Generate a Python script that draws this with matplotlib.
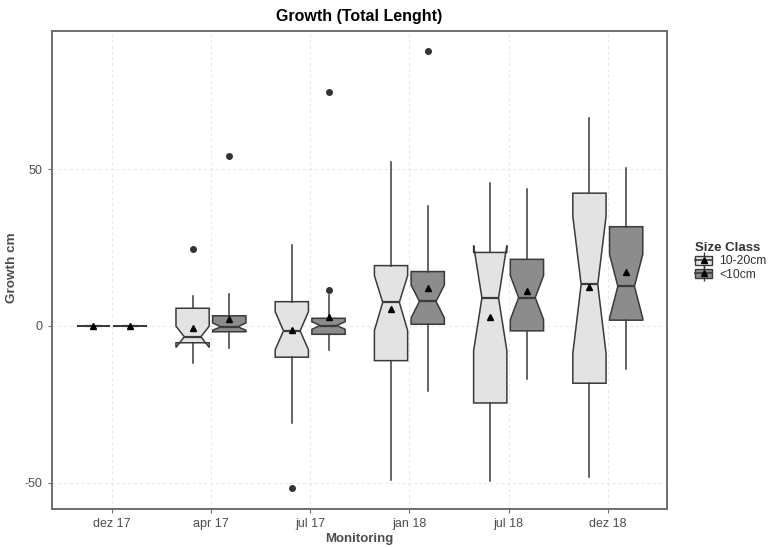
import matplotlib
matplotlib.use("Agg")
import matplotlib.pyplot as plt
from matplotlib.patches import Patch
from matplotlib.lines import Line2D
from matplotlib.legend_handler import HandlerTuple

plt.rcParams['font.family'] = ['Liberation Sans', 'DejaVu Sans']
plt.rcParams['axes.unicode_minus'] = False

months = ["dez 17", "apr 17", "jul 17", "jan 18", "jul 18", "dez 18"]
groups = ["10-20cm", "<10cm"]

# 10-20cm (light boxes)
big_whislo = [0, -11.9, -30.9, -49.1, -49.4, -48.1]
big_q1 = [0, -5.4, -10.0, -11.1, -24.6, -18.3]
big_cilo = [0, -6.9, -7.6, -1.5, -7.9, -8.8]
big_med = [0, -3.5, -1.6, 7.5, 8.9, 13.2]
big_cihi = [0, -0.1, 4.5, 16.0, 25.6, 34.9]
big_q3 = [0, 5.6, 7.7, 19.2, 23.4, 42.3]
big_whishi = [0, 9.6, 25.9, 52.1, 45.6, 66.3]
big_mean = [0, -0.8, -1.4, 5.5, 2.9, 12.4]
big_fliers = [[], [24.5], [-51.6], [], [], []]

# <10cm (dark boxes)
small_whislo = [0, -7.2, -7.7, -20.9, -17.0, -13.9]
small_q1 = [0, -1.9, -2.7, 0.5, -1.6, 1.8]
small_cilo = [0, -1.4, -1.1, 2.5, 2.0, 2.4]
small_med = [0, -0.3, 0.1, 7.8, 9.0, 12.6]
small_cihi = [0, 0.9, 1.3, 13.0, 16.0, 22.8]
small_q3 = [0, 3.2, 2.4, 17.3, 21.2, 31.6]
small_whishi = [0, 10.2, 9.8, 38.2, 43.6, 50.4]
small_mean = [0, 2.2, 2.8, 12.2, 11.0, 17.1]
small_fliers = [[], [54.0], [11.3, 74.4], [87.5], [], []]

light = "#E3E3E3"
dark = "#8C8C8C"
edge = "#3A3A3A"


def make_stats(whislo, q1, cilo, med, cihi, q3, whishi, mean, fliers):
    out = []
    for i in range(len(med)):
        out.append(dict(whislo=whislo[i], q1=q1[i], cilo=cilo[i], med=med[i],
                        cihi=cihi[i], q3=q3[i], whishi=whishi[i],
                        mean=mean[i], fliers=fliers[i]))
    return out


fig = plt.figure(figsize=(7.73, 5.47), dpi=100)
ax = fig.add_axes([0.0669, 0.0695, 0.7964, 0.8738])

offset = 0.185
width = 0.335
pos = list(range(1, len(months) + 1))

for stats, shift, fill in [
    (make_stats(big_whislo, big_q1, big_cilo, big_med, big_cihi, big_q3,
                big_whishi, big_mean, big_fliers), -offset, light),
    (make_stats(small_whislo, small_q1, small_cilo, small_med, small_cihi,
                small_q3, small_whishi, small_mean, small_fliers), offset, dark),
]:
    ax.bxp(stats, positions=[p + shift for p in pos], widths=width,
           shownotches=True, showmeans=True, showcaps=False, patch_artist=True,
           boxprops=dict(facecolor=fill, edgecolor=edge, linewidth=1.1),
           whiskerprops=dict(color=edge, linewidth=1.1),
           medianprops=dict(color=edge, linewidth=1.6),
           meanprops=dict(marker='^', markerfacecolor='black',
                          markeredgecolor='black', markersize=5),
           flierprops=dict(marker='o', markerfacecolor='#333333',
                           markeredgecolor='#333333', markersize=4),
           zorder=3)

ax.set_xlim(0.395, 6.6)
ax.set_ylim(-58.4, 94.0)
ax.set_xticks(pos)
ax.set_xticklabels(months)
ax.set_yticks([-50, 0, 50])
ax.grid(True, linestyle=(0, (3, 3)), color="#E6E6E6", linewidth=0.7, zorder=0)
ax.set_axisbelow(True)
for s in ax.spines.values():
    s.set_color("#6E6E6E")
    s.set_linewidth(1.4)
ax.tick_params(axis='both', colors="#6E6E6E", labelcolor="#4D4D4D",
               labelsize=9, length=3, width=0.8)

ax.set_title("Growth (Total Lenght)", fontsize=11.5, fontweight='bold', pad=7)
ax.set_xlabel("Monitoring", fontsize=9.5, fontweight='bold', color="#4D4D4D",
              labelpad=2)
ax.set_ylabel("Growth cm", fontsize=9.7, fontweight='bold', color="#4D4D4D")
ax.yaxis.set_label_coords(-0.054, 0.505)

handles = []
for fill in [light, dark]:
    handles.append((
        Line2D([], [], color=edge, marker='|', markersize=11, linestyle='none',
               markeredgewidth=1.0),
        Patch(facecolor=fill, edgecolor=edge, linewidth=1.0),
        Line2D([], [], color=edge, linewidth=1.2),
        Line2D([], [], marker='^', color='black', markersize=4,
               linestyle='none'),
    ))
leg = fig.legend(handles, groups, title="Size Class", loc='center left',
                 bbox_to_anchor=(0.8915, 0.522), frameon=False, fontsize=8.7,
                 title_fontproperties={'weight': 'bold', 'size': 9.5},
                 handler_map={tuple: HandlerTuple(ndivide=1)},
                 handlelength=1.4, handleheight=0.8, labelspacing=0.1,
                 handletextpad=0.6, borderpad=0, alignment='left')
leg.get_title().set_color("#333333")
for t in leg.get_texts():
    t.set_color("#333333")

fig.savefig("out.png", dpi=100)
